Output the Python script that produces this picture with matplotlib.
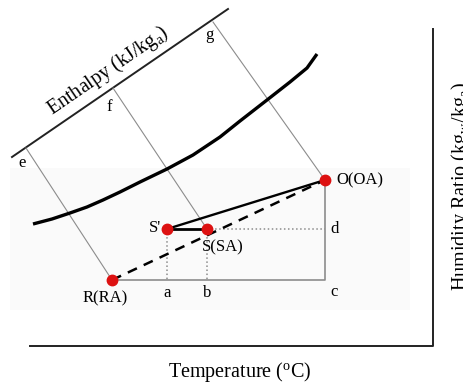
import matplotlib
matplotlib.use('Agg')
import matplotlib.pyplot as plt
import matplotlib.patches as mpatches

plt.rcParams['font.family'] = ['Liberation Serif', 'DejaVu Serif']
plt.rcParams['mathtext.fontset'] = 'custom'
plt.rcParams['mathtext.rm'] = 'Liberation Serif'
plt.rcParams['mathtext.it'] = 'Liberation Serif:italic'

# state points (temperature, humidity ratio) in chart units
point_names = ['R(RA)', "S'", 'S(SA)', 'O(OA)']
point_t = [112, 167, 207, 325]
point_w = [280, 229, 229, 180]

# saturation curve
sat_t = [33, 52, 70, 87, 103, 120, 140, 167, 193, 220, 240, 267, 290, 307, 317]
sat_w = [224, 219, 213, 207, 200, 192, 182, 169, 155, 137, 121, 100, 82, 68, 54]

# enthalpy scale line and its ticks e, f, g
enth_t = [12, 228]
enth_w = [157, 9]
tick_names = ['e', 'f', 'g']
tick_start_t = [26, 113, 213]
tick_start_w = [148, 88, 22]
tick_end = [0, 2, 3]   # index of point each enthalpy line runs to

color_red = '#dd1111'
color_gray = '#8c8c8c'

fig = plt.figure(figsize=(4.64, 3.85), dpi=100)
ax = fig.add_axes([0, 0, 1, 1])
ax.set_xlim(0, 464)
ax.set_ylim(385, 0)
ax.axis('off')

R, Sp, S, O = range(4)

# faint background band
ax.add_patch(mpatches.Rectangle((10, 168), 400, 142, color='#fafafa', zorder=0, lw=0))

# chart frame (bottom and right)
ax.plot([30, 433, 433], [346, 346, 29], color='#222222', lw=1.4)

# enthalpy scale
ax.plot(enth_t, enth_w, color='#222222', lw=1.4)
for name, t0, w0, k in zip(tick_names, tick_start_t, tick_start_w, tick_end):
    ax.plot([t0, point_t[k]], [w0, point_w[k]], color=color_gray, lw=0.8)
ax.text(22, 163, 'e', fontsize=12, ha='center', va='center')
ax.text(109, 107, 'f', fontsize=12, ha='center', va='center')
ax.text(209, 35, 'g', fontsize=12, ha='center', va='center')
ax.text(108, 71, r'Enthalpy (kJ/kg$_{\rm a}$)', fontsize=14.5, rotation=34.4,
        rotation_mode='anchor', ha='center', va='center')

# saturation curve
ax.plot(sat_t, sat_w, color='black', lw=2.4, solid_capstyle='butt', solid_joinstyle='round')

# gray guide lines R -> c -> O
ax.plot([point_t[R], point_t[O], point_t[O]], [point_w[R], point_w[R], point_w[O]],
        color=color_gray, lw=1.2)

# dotted guides
ax.plot([point_t[Sp], point_t[Sp]], [point_w[Sp], point_w[R]], color=color_gray, lw=1.1, ls=':')
ax.plot([point_t[S], point_t[S]], [point_w[S], point_w[R]], color=color_gray, lw=1.1, ls=':')
ax.plot([point_t[S], point_t[O]], [point_w[S], point_w[S]], color=color_gray, lw=1.1, ls=':')

# process lines
ax.plot([point_t[R], point_t[O]], [point_w[R], point_w[O]], color='black', lw=1.8,
        ls=(0, (4, 3)))
ax.plot([point_t[Sp], point_t[O]], [point_w[Sp], point_w[O]], color='black', lw=1.7)
ax.plot([point_t[Sp], point_t[S]], [point_w[Sp], point_w[S]], color='black', lw=2.0)

ax.plot(point_t, point_w, 'o', color=color_red, ms=7.5, zorder=5)

ax.text(105, 298, point_names[R], fontsize=12, ha='center', va='center')
ax.text(161, 228, point_names[Sp], fontsize=12, ha='right', va='center')
ax.text(202, 247, point_names[S], fontsize=12, ha='left', va='center')
ax.text(336, 180, point_names[O], fontsize=12, ha='left', va='center')

ax.text(167, 293, 'a', fontsize=12, ha='center', va='center')
ax.text(207, 293, 'b', fontsize=12, ha='center', va='center')
ax.text(334, 292, 'c', fontsize=12, ha='center', va='center')
ax.text(335, 229, 'd', fontsize=12, ha='center', va='center')

ax.text(240, 372, r'Temperature ($^{\rm o}$C)', fontsize=14.5, ha='center', va='center')
ax.text(461, 187, r'Humidity Ratio (kg$_{\rm w}$/kg$_{\rm a}$)', fontsize=14.5,
        rotation=90, ha='center', va='center')

fig.savefig('out.png', dpi=100)
